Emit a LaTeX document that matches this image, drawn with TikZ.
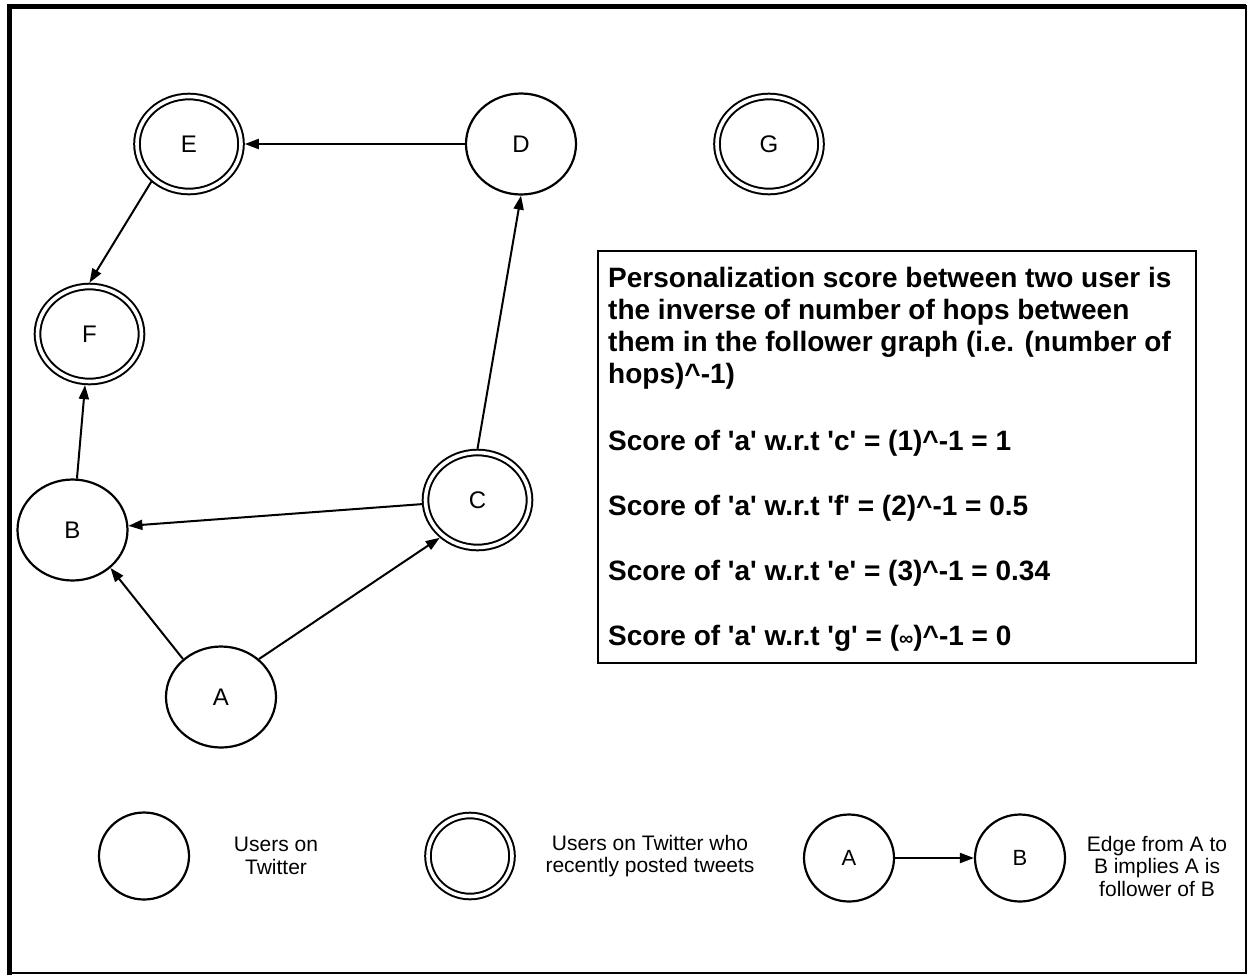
\documentclass[tikz,border=0pt]{standalone}
\usepackage{fontspec}
\setmainfont{Liberation Sans}
\usetikzlibrary{arrows.meta,shapes.geometric}
\newcommand{\sq}{\textquotesingle}
\begin{document}
\begin{tikzpicture}[x=1pt,y=-1pt,
  user/.style={draw, ellipse, line width=2.2pt, minimum width=110pt,
    minimum height=101pt, inner sep=0pt, outer sep=1.1pt,
    font=\fontsize{24}{28}\selectfont},
  poster/.style={user, double, double distance=3.6pt, line width=2pt,
    minimum width=104pt, minimum height=95pt, outer sep=3.8pt},
  keyuser/.style={user, minimum width=90pt, minimum height=87pt,
    font=\fontsize{22}{26}\selectfont},
  keyposter/.style={poster, minimum width=84pt, minimum height=81pt},
  follows/.style={-{Triangle[length=14pt,width=10pt]}, line width=2pt},
  keytext/.style={font=\fontsize{21}{22.5}\selectfont, align=center, inner sep=0pt},
  boxtext/.style={font=\bfseries\fontsize{28}{32}\selectfont, anchor=base west, inner sep=0pt},
]
\useasboundingbox (0,0) rectangle (1249,975);

% frame
\draw[line width=1.6pt] (9.5,6) rectangle (1246,973);
\draw[line width=5pt] (9.5,975) -- (9.5,6) -- (1246,6);

% follower graph
\node[poster] (E) at (189,144) {E};
\node[user]   (D) at (521,144) {D};
\node[poster] (G) at (769,144) {G};
\node[poster] (F) at (89.5,334) {F};
\node[user]   (B) at (72.5,530) {B};
\node[poster] (C) at (477.5,500) {C};
\node[user]   (A) at (221,697) {A};

\draw[follows] (D) -- (E);
\draw[follows] (E.225) -- (F.north);
\draw[follows] (B) -- (F);
\draw[follows] (C) -- (B);
\draw[follows] (C.north) -- (D.south);
\draw[follows] (A.135) -- (B.315);
\draw[follows] (A.45) -- (C.225);

% explanation box
\node[draw, line width=1.8pt, minimum width=598pt, minimum height=412pt,
  anchor=north west, inner sep=0pt] (box) at (597,250) {};
\node[boxtext] (t1) at (608,287) {Personalization score between two user is};
\node[boxtext] (t2) at (608,319) {the inverse of number of hops between};
\node[boxtext] (t3) at (608,351) {them in the follower graph (i.e. (number of};
\node[boxtext] (t4) at (608,383) {hops)\textasciicircum-1)};
\node[boxtext] (s1) at (608,450) {Score of \sq a\sq\ w.r.t \sq c\sq\ = (1)\textasciicircum-1 = 1};
\node[boxtext] (s2) at (608,515) {Score of \sq a\sq\ w.r.t \sq f\sq\ = (2)\textasciicircum-1 = 0.5};
\node[boxtext] (s3) at (608,580) {Score of \sq a\sq\ w.r.t \sq e\sq\ = (3)\textasciicircum-1 = 0.34};
\node[boxtext] (s4) at (608,645) {Score of \sq a\sq\ w.r.t \sq g\sq\ = ({\fontsize{20}{24}\selectfont ∞})\textasciicircum-1 = 0};

% legend
\node[keyuser] (k1) at (144,856) {};
\node[keytext] (k1t) at (276,856) {Users on\\Twitter};
\node[keyposter] (k2) at (470,856) {};
\node[keytext] (k2t) at (650,856) {Users on Twitter who\\recently posted tweets};
\node[keyuser] (ka) at (849,858) {A};
\node[keyuser] (kb) at (1020,858) {B};
\draw[follows] (ka) -- (kb);
\node[keytext] (k3t) at (1157,866) {Edge from A to\\B implies A is\\follower of B};
\end{tikzpicture}
\end{document}
